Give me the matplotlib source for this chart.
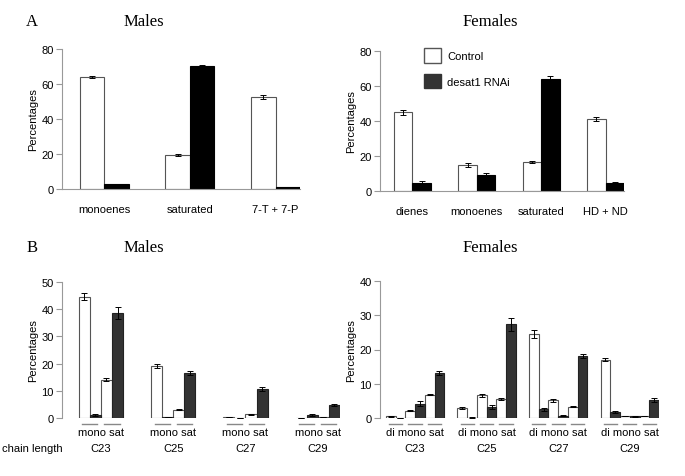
import numpy as np
import matplotlib
matplotlib.use("Agg")
import matplotlib.pyplot as plt
from matplotlib.patches import Patch

plt.rcParams['font.family'] = ['Liberation Sans', 'DejaVu Sans']

# ── data ───────────────────────────────────────────────────────────────────
a_male_cats = ["monoenes", "saturated", "7-T + 7-P"]
a_male_ctrl = [64.0, 19.5, 52.5]
a_male_ctrl_err = [0.8, 0.7, 1.0]
a_male_rnai = [2.7, 70.5, 1.0]
a_male_rnai_err = [0.3, 0.6, 0.1]

a_fem_cats = ["dienes", "monoenes", "saturated", "HD + ND"]
a_fem_ctrl = [45.0, 15.0, 16.5, 41.0]
a_fem_ctrl_err = [1.5, 1.0, 0.6, 1.2]
a_fem_rnai = [4.8, 9.0, 63.8, 4.5]
a_fem_rnai_err = [0.7, 1.5, 2.2, 0.6]

chains = ["C23", "C25", "C27", "C29"]
b_male_classes = ["mono", "sat"]
# rows = chain length, cols = class
b_male_ctrl = [[44.5, 14.1], [19.0, 3.1], [0.25, 1.4], [0.1, 0.4]]
b_male_ctrl_err = [[1.3, 0.6], [0.8, 0.3], [0.05, 0.2], [0.03, 0.1]]
b_male_rnai = [[1.0, 38.7], [0.3, 16.4], [0.1, 10.7], [1.1, 4.9]]
b_male_rnai_err = [[0.3, 2.2], [0.1, 0.7], [0.05, 0.8], [0.2, 0.4]]

b_fem_classes = ["di", "mono", "sat"]
b_fem_ctrl = [[0.5, 2.1, 6.8], [2.9, 6.6, 5.5], [24.5, 5.2, 3.3], [17.0, 0.6, 0.6]]
b_fem_ctrl_err = [[0.1, 0.2, 0.2], [0.3, 0.5, 0.3], [1.2, 0.4, 0.2], [0.5, 0.1, 0.1]]
b_fem_rnai = [[0.05, 4.2, 13.2], [0.1, 3.3, 27.3], [2.5, 0.7, 18.1], [1.8, 0.5, 5.3]]
b_fem_rnai_err = [[0.02, 0.8, 0.6], [0.05, 0.6, 2.0], [0.5, 0.1, 0.6], [0.3, 0.1, 0.6]]

W, H = 685, 477
fig = plt.figure(figsize=(W / 100, H / 100), dpi=100)

def px_axes(x0, y0, x1, y1):
    return fig.add_axes([x0 / W, 1 - y1 / H, (x1 - x0) / W, (y1 - y0) / H])

EDGE = "#555555"
SPINE = "#999999"
ekw = dict(ecolor="black", elinewidth=0.7, capsize=2, capthick=0.7)

def style(ax, ymax, step, bottom=True):
    ax.set_ylim(0, ymax)
    ax.set_yticks(np.arange(0, ymax + 1, step))
    for s in ["top", "right"]:
        ax.spines[s].set_visible(False)
    ax.spines["bottom"].set_visible(bottom)
    ax.spines["left"].set_color(SPINE)
    ax.spines["bottom"].set_color(SPINE)
    ax.spines["left"].set_linewidth(0.8)
    ax.spines["bottom"].set_linewidth(0.8)
    ax.tick_params(axis="y", direction="out", length=4, width=0.8, color=SPINE,
                   labelsize=8, pad=2)
    ax.tick_params(axis="x", length=0, labelsize=8, pad=11)
    ax.set_ylabel("Percentages", fontsize=8, labelpad=2)

# ── A: males ───────────────────────────────────────────────────────────────
ax = px_axes(62, 50, 300, 190)
c = 1 + 3.5 * np.arange(len(a_male_cats))
ax.bar(c - 0.5, a_male_ctrl, 1, yerr=a_male_ctrl_err, color="white",
       edgecolor=EDGE, linewidth=0.8, error_kw=ekw)
ax.bar(c + 0.5, a_male_rnai, 1, yerr=a_male_rnai_err, color="black",
       edgecolor="black", linewidth=0.8, error_kw=ekw)
ax.set_xlim(-0.73, c[-1] + 1)
ax.set_xticks(c)
ax.set_xticklabels(a_male_cats)
style(ax, 80, 20)

# ── A: females ─────────────────────────────────────────────────────────────
ax = px_axes(380, 52, 624, 192)
c = 1 + 3.5 * np.arange(len(a_fem_cats))
ax.bar(c - 0.5, a_fem_ctrl, 1, yerr=a_fem_ctrl_err, color="white",
       edgecolor=EDGE, linewidth=0.8, error_kw=ekw)
ax.bar(c + 0.5, a_fem_rnai, 1, yerr=a_fem_rnai_err, color="black",
       edgecolor="black", linewidth=0.8, error_kw=ekw)
ax.set_xlim(-0.76, c[-1] + 1)
ax.set_xticks(c)
ax.set_xticklabels(a_fem_cats)
style(ax, 80, 20)
handles = [Patch(facecolor="white", edgecolor=EDGE, label="Control"),
           Patch(facecolor="#333333", edgecolor="#333333", label="desat1 RNAi")]
ax.legend(handles=handles, loc="upper left", bbox_to_anchor=(0.14, 1.09),
          frameon=False, fontsize=8, handlelength=1.5, handleheight=1.6,
          labelspacing=1.0, handletextpad=0.6)

# ── B panels ───────────────────────────────────────────────────────────────
def panel_b(ax, classes, ctrl, ctrl_err, rnai, rnai_err, pitch, left, ymax):
    n = len(classes)
    ctrl = np.array(ctrl); rnai = np.array(rnai)
    ctrl_err = np.array(ctrl_err); rnai_err = np.array(rnai_err)
    starts = pitch * np.arange(len(chains))
    tr = ax.get_xaxis_transform()
    for g, s in enumerate(starts):
        xc = s + 2 * np.arange(n) + 0.5
        ax.bar(xc, ctrl[g], 1, yerr=ctrl_err[g], color="white",
               edgecolor=EDGE, linewidth=0.8, error_kw=ekw)
        ax.bar(xc + 1, rnai[g], 1, yerr=rnai_err[g], color="#333333",
               edgecolor="#222222", linewidth=0.8, error_kw=ekw)
        for k in range(n):
            m = s + 2 * k + 1
            ax.plot([m - 0.68, m + 0.68], [-0.045, -0.045], color="#888888",
                    lw=1.0, transform=tr, clip_on=False)
        mid = s + n
        ax.text(mid, -0.105, " ".join(classes), transform=tr, ha="center",
                va="center", fontsize=8)
        ax.text(mid, -0.22, chains[g], transform=tr, ha="center",
                va="center", fontsize=8)
    ax.set_xlim(-left, starts[-1] + 2 * n)
    ax.set_xticks([])

ax = px_axes(62, 283, 340, 419)
panel_b(ax, b_male_classes, b_male_ctrl, b_male_ctrl_err, b_male_rnai,
        b_male_rnai_err, 6.5, 1.5, 50)
style(ax, 50, 10, bottom=False)
fig.text(63 / W, 1 - 449 / H, "chain length", ha="right", va="center", fontsize=8)

ax = px_axes(380, 282, 659, 419)
panel_b(ax, b_fem_classes, b_fem_ctrl, b_fem_ctrl_err, b_fem_rnai,
        b_fem_rnai_err, 7.35, 0.6, 40)
style(ax, 40, 10, bottom=False)

# ── titles ─────────────────────────────────────────────────────────────────
serif = dict(family=["Liberation Serif", "DejaVu Serif"], fontsize=12,
             ha="center", va="center")
fig.text(32 / W, 1 - 22 / H, "A", **serif)
fig.text(144 / W, 1 - 22 / H, "Males", **serif)
fig.text(490 / W, 1 - 22 / H, "Females", **serif)
fig.text(32 / W, 1 - 248 / H, "B", **serif)
fig.text(144 / W, 1 - 248 / H, "Males", **serif)
fig.text(490 / W, 1 - 248 / H, "Females", **serif)

fig.savefig("out.png", dpi=100)
